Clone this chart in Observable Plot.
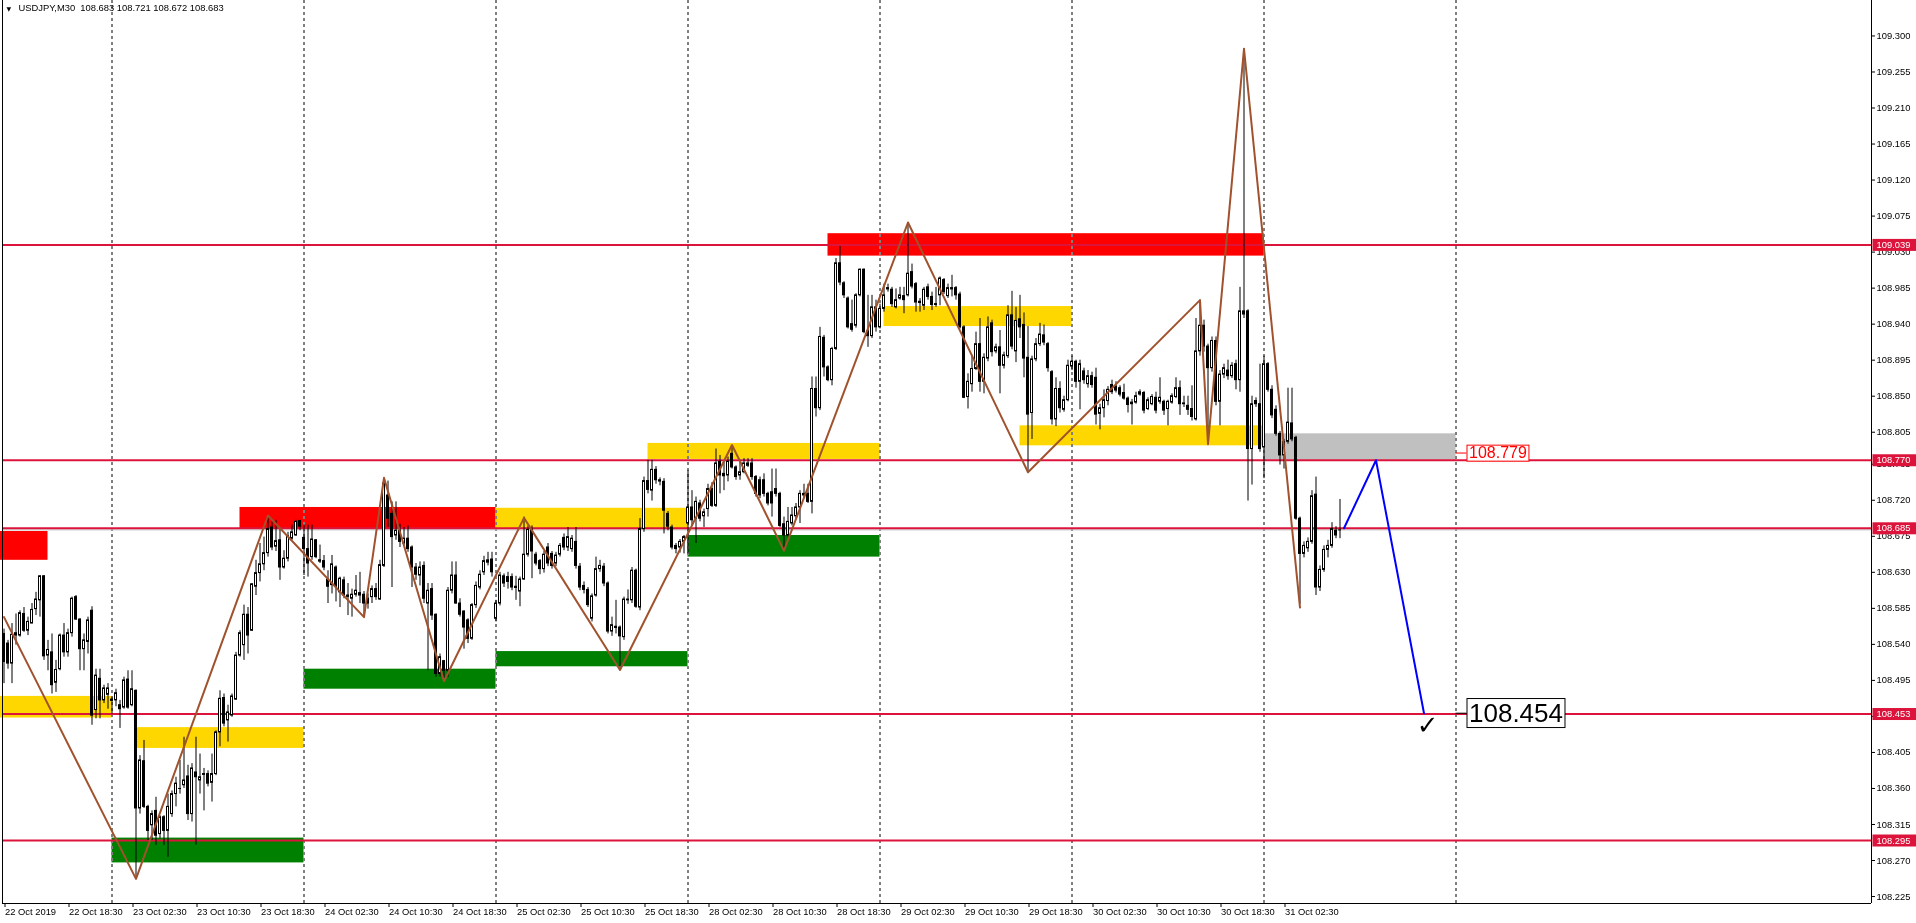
<!DOCTYPE html>
<html><head><meta charset="utf-8">
<script src="https://cdn.jsdelivr.net/npm/d3@7"></script>
<script src="https://cdn.jsdelivr.net/npm/@observablehq/plot@0.6"></script>
<style>
html,body{margin:0;padding:0;background:#fff;overflow:hidden}
#chart svg{display:block}
</style></head><body><div id="chart"></div>
<script>
// ---- USDJPY M30 candles (bar 0 = 22 Oct 10:30) ----
const open = [
108.553,108.541,108.516,108.551,108.551,108.578,108.557,108.566,108.584,108.595,
108.625,108.526,108.530,108.492,108.509,108.551,108.530,108.554,108.599,108.571,
108.534,108.543,108.582,108.458,108.497,108.470,108.477,108.471,108.470,108.464,
108.461,108.496,108.464,108.482,108.335,108.394,108.337,108.314,108.332,108.303,
108.324,108.307,108.328,108.353,108.360,108.364,108.375,108.328,108.380,108.370,
108.377,108.378,108.367,108.378,108.430,108.473,108.445,108.451,108.471,108.526,
108.539,108.577,108.557,108.612,108.629,108.640,108.654,108.686,108.662,108.670,
108.636,108.647,108.672,108.676,108.694,108.673,108.659,108.649,108.670,108.645,
108.644,108.621,108.614,108.636,108.605,108.620,108.601,108.597,108.602,108.604,
108.602,108.597,108.599,108.609,108.596,108.638,108.726,108.703,108.676,108.682,
108.666,108.672,108.661,108.636,108.626,108.638,108.591,108.609,108.577,108.503,
108.519,108.507,108.607,108.626,108.591,108.581,108.570,108.547,108.589,108.611,
108.630,108.642,108.646,108.572,108.591,108.625,108.624,108.624,108.612,108.606,
108.621,108.652,108.683,108.652,108.644,108.634,108.661,108.653,108.641,108.652,
108.673,108.661,108.659,108.668,108.637,108.613,108.608,108.572,108.601,108.634,
108.637,108.616,108.556,108.562,108.561,108.549,108.595,108.595,108.632,108.586,
108.684,108.744,108.732,108.758,108.745,108.743,108.703,108.686,108.663,108.661,
108.668,108.691,108.711,108.697,108.716,108.700,108.709,108.734,108.713,108.768,
108.753,108.751,108.778,108.761,108.751,108.755,108.763,108.766,108.749,108.745,
108.745,108.728,108.730,108.734,108.728,108.690,108.676,108.691,108.700,108.711,
108.728,108.728,108.718,108.859,108.835,108.923,108.886,108.870,108.909,109.016,
108.991,108.972,108.940,108.938,108.976,109.008,108.931,108.925,108.961,108.936,
108.959,108.985,108.983,108.961,108.972,108.975,108.976,109.005,108.990,108.968,
108.963,108.986,108.974,108.964,108.976,108.995,108.975,108.985,108.985,108.977,
108.936,108.849,108.865,108.884,108.915,108.868,108.897,108.941,108.906,108.911,
108.888,108.900,108.951,108.906,108.946,108.939,108.898,108.829,108.896,108.915,
108.926,108.915,108.880,108.821,108.859,108.833,108.845,108.887,108.893,108.868,
108.881,108.865,108.875,108.873,108.828,108.835,108.844,108.864,108.862,108.860,
108.854,108.847,108.840,108.842,108.852,108.854,108.834,108.840,108.848,108.843,
108.843,108.834,108.842,108.849,108.860,108.840,108.838,108.834,108.821,108.906,
108.938,108.912,108.885,108.919,108.843,108.877,108.882,108.875,108.890,108.870,
108.956,108.956,108.784,108.844,108.840,108.786,108.890,108.858,108.833,108.803,
108.776,108.793,108.816,108.798,108.697,108.653,108.660,108.668,108.727,108.611,
108.633,108.658,108.663,108.682,108.683];
const high = [
108.559,108.545,108.566,108.578,108.582,108.586,108.574,108.591,108.605,108.626,
108.626,108.545,108.553,108.520,108.553,108.566,108.559,108.599,108.601,108.572,
108.553,108.574,108.587,108.509,108.509,108.489,108.491,108.474,108.484,108.470,
108.499,108.507,108.507,108.483,108.401,108.420,108.339,108.332,108.349,108.326,
108.326,108.353,108.357,108.374,108.395,108.424,108.389,108.391,108.424,108.403,
108.385,108.382,108.403,108.432,108.482,108.478,108.464,108.478,108.530,108.557,
108.589,108.586,108.616,108.645,108.666,108.674,108.699,108.693,108.695,108.684,
108.657,108.680,108.689,108.695,108.695,108.689,108.689,108.689,108.671,108.664,
108.651,108.632,108.651,108.638,108.624,108.624,108.616,108.609,108.626,108.630,
108.606,108.603,108.613,108.616,108.645,108.747,108.744,108.718,108.718,108.690,
108.686,108.688,108.663,108.641,108.643,108.643,108.616,108.616,108.578,108.528,
108.520,108.611,108.643,108.643,108.597,108.582,108.572,108.591,108.618,108.632,
108.650,108.655,108.655,108.595,108.630,108.628,108.630,108.628,108.625,108.624,
108.699,108.688,108.688,108.655,108.646,108.656,108.666,108.656,108.655,108.666,
108.678,108.686,108.676,108.686,108.641,108.618,108.611,108.603,108.649,108.645,
108.641,108.618,108.574,108.595,108.563,108.599,108.608,108.636,108.634,108.697,
108.749,108.770,108.770,108.762,108.748,108.747,108.706,108.689,108.666,108.671,
108.676,108.757,108.732,108.724,108.720,108.709,108.740,108.742,108.784,108.776,
108.768,108.774,108.788,108.763,108.770,108.772,108.772,108.772,108.751,108.749,
108.753,108.730,108.759,108.759,108.730,108.699,108.711,108.711,108.716,108.732,
108.740,108.740,108.874,108.874,108.936,108.926,108.888,108.911,109.022,109.037,
108.993,108.974,108.970,108.978,109.009,109.009,108.976,108.976,108.970,108.965,
108.990,108.990,108.986,108.984,108.986,108.986,109.067,109.015,108.992,108.972,
108.986,108.990,108.980,108.986,108.999,108.997,108.990,109.001,108.987,108.980,
108.938,108.878,108.901,108.930,108.947,108.903,108.949,108.945,108.915,108.932,
108.905,108.963,108.981,108.961,108.976,108.954,108.937,108.900,108.922,108.941,
108.939,108.917,108.882,108.873,108.868,108.850,108.895,108.900,108.895,108.895,
108.885,108.882,108.880,108.885,108.840,108.858,108.862,108.870,108.868,108.863,
108.865,108.849,108.846,108.855,108.858,108.856,108.848,108.852,108.855,108.873,
108.845,108.845,108.853,108.873,108.869,108.850,108.850,108.863,108.947,108.970,
108.945,108.915,108.924,108.924,108.882,108.890,108.895,108.892,108.895,108.986,
109.284,108.958,108.850,108.848,108.890,108.900,108.892,108.863,108.838,108.806,
108.796,108.860,108.860,108.800,108.699,108.668,108.673,108.732,108.749,108.638,
108.663,108.670,108.692,108.687,108.721];
const low = [
108.491,108.509,108.491,108.539,108.549,108.555,108.551,108.566,108.576,108.574,
108.520,108.507,108.478,108.480,108.507,108.524,108.524,108.549,108.570,108.507,
108.507,108.528,108.439,108.447,108.447,108.466,108.459,108.453,108.462,108.435,
108.459,108.459,108.462,108.247,108.328,108.335,108.295,108.295,108.289,108.297,
108.289,108.274,108.324,108.337,108.353,108.360,108.320,108.318,108.289,108.353,
108.332,108.362,108.343,108.376,108.412,108.437,108.418,108.449,108.470,108.524,
108.520,108.528,108.556,108.601,108.618,108.632,108.649,108.657,108.656,108.620,
108.634,108.643,108.670,108.675,108.682,108.626,108.624,108.645,108.647,108.641,
108.632,108.591,108.603,108.593,108.586,108.597,108.576,108.574,108.599,108.591,
108.574,108.584,108.591,108.595,108.595,108.636,108.686,108.611,108.670,108.661,
108.663,108.655,108.611,108.620,108.613,108.591,108.507,108.570,108.499,108.499,
108.495,108.499,108.603,108.590,108.574,108.534,108.541,108.545,108.585,108.608,
108.626,108.638,108.624,108.568,108.588,108.611,108.609,108.607,108.595,108.587,
108.620,108.649,108.622,108.638,108.627,108.629,108.637,108.634,108.637,108.649,
108.657,108.656,108.655,108.634,108.607,108.603,108.586,108.568,108.599,108.630,
108.612,108.553,108.550,108.553,108.508,108.545,108.590,108.591,108.585,108.582,
108.680,108.728,108.719,108.740,108.738,108.678,108.682,108.658,108.653,108.654,
108.653,108.653,108.688,108.666,108.693,108.686,108.699,108.711,108.711,108.728,
108.732,108.743,108.759,108.745,108.745,108.753,108.761,108.745,108.724,108.722,
108.724,108.713,108.699,108.724,108.686,108.657,108.674,108.688,108.697,108.691,
108.722,108.716,108.703,108.824,108.832,108.874,108.868,108.863,108.907,108.988,
108.972,108.934,108.930,108.935,108.974,108.928,108.911,108.922,108.930,108.934,
108.955,108.980,108.961,108.959,108.970,108.953,108.974,108.984,108.955,108.955,
108.957,108.970,108.957,108.961,108.963,108.977,108.972,108.974,108.970,108.934,
108.847,108.834,108.855,108.882,108.855,108.853,108.893,108.899,108.903,108.853,
108.884,108.897,108.908,108.892,108.922,108.873,108.755,108.796,108.893,108.912,
108.913,108.880,108.814,108.812,108.829,108.830,108.843,108.882,108.860,108.833,
108.865,108.860,108.860,108.814,108.808,108.823,108.838,108.852,108.854,108.849,
108.845,108.829,108.814,108.840,108.850,108.828,108.832,108.838,108.828,108.840,
108.826,108.813,108.840,108.847,108.826,108.836,108.826,108.819,108.819,108.900,
108.905,108.790,108.880,108.838,108.813,108.872,108.870,108.872,108.858,108.855,
108.947,108.719,108.739,108.836,108.780,108.747,108.855,108.822,108.800,108.764,
108.759,108.790,108.793,108.695,108.590,108.648,108.655,108.665,108.601,108.606,
108.630,108.648,108.660,108.672,108.672];
const close = [
108.518,108.516,108.552,108.554,108.579,108.557,108.568,108.583,108.596,108.625,
108.525,108.533,108.489,108.508,108.551,108.530,108.554,108.597,108.571,108.534,
108.545,108.570,108.451,108.501,108.470,108.485,108.485,108.470,108.479,108.459,
108.495,108.461,108.484,108.335,108.395,108.337,108.307,108.328,108.301,108.324,
108.307,108.337,108.353,108.366,108.360,108.370,108.328,108.385,108.374,108.374,
108.378,108.366,108.378,108.430,108.472,108.441,108.455,108.475,108.526,108.554,
108.577,108.551,108.615,108.629,108.640,108.654,108.684,108.661,108.669,108.636,
108.647,108.675,108.680,108.693,108.687,108.659,108.641,108.671,108.649,108.644,
108.636,108.612,108.640,108.612,108.622,108.601,108.600,108.602,108.607,108.601,
108.591,108.591,108.609,108.599,108.639,108.741,108.697,108.674,108.682,108.668,
108.672,108.659,108.636,108.627,108.636,108.597,108.607,108.576,108.503,108.524,
108.507,108.607,108.626,108.591,108.577,108.561,108.547,108.589,108.613,108.627,
108.644,108.645,108.630,108.591,108.626,108.616,108.618,108.611,108.611,108.621,
108.652,108.683,108.656,108.641,108.634,108.652,108.641,108.638,108.651,108.663,
108.661,108.674,108.672,108.638,108.611,108.608,108.589,108.600,108.634,108.638,
108.616,108.556,108.564,108.561,108.550,108.596,108.596,108.632,108.587,108.684,
108.744,108.733,108.758,108.745,108.744,108.707,108.687,108.661,108.659,108.668,
108.674,108.711,108.695,108.718,108.697,108.705,108.734,108.713,108.766,108.751,
108.750,108.768,108.761,108.749,108.755,108.766,108.766,108.749,108.728,108.726,
108.728,108.716,108.716,108.728,108.688,108.676,108.693,108.701,108.711,108.728,
108.726,108.718,108.859,108.835,108.924,108.886,108.870,108.909,109.016,108.992,
108.976,108.936,108.933,108.976,109.008,108.930,108.925,108.961,108.936,108.959,
108.976,108.984,108.965,108.970,108.976,108.970,109.003,108.987,108.967,108.967,
108.983,108.974,108.964,108.965,108.997,108.980,108.985,108.984,108.976,108.936,
108.848,108.868,108.884,108.915,108.868,108.898,108.936,108.905,108.911,108.888,
108.901,108.951,108.912,108.944,108.936,108.897,108.827,108.896,108.915,108.927,
108.917,108.885,108.821,108.859,108.835,108.845,108.888,108.893,108.868,108.890,
108.870,108.875,108.864,108.827,108.835,108.845,108.858,108.855,108.857,108.852,
108.847,108.839,108.842,108.850,108.855,108.832,108.845,108.849,108.832,108.848,
108.832,108.843,108.850,108.860,108.840,108.841,108.833,108.824,108.906,108.938,
108.912,108.885,108.919,108.843,108.877,108.885,108.875,108.888,108.870,108.956,
108.952,108.784,108.840,108.840,108.784,108.890,108.858,108.826,108.803,108.776,
108.793,108.817,108.796,108.697,108.653,108.663,108.668,108.725,108.611,108.633,
108.658,108.663,108.684,108.676,108.683];

// ---- zones (bar start, bar end, low, high, colour) ----
const zoneStart = [-1, -1, 33, 27, 59, 75, 123, 123, 161, 171, 206, 220, 254, 315];
const zoneEnd   = [11, 27, 75, 75, 123, 123, 171, 171, 219, 219, 315, 267, 315, 363];
const zoneLow   = [108.645,108.448,108.410,108.267,108.684,108.484,108.684,108.512,108.771,108.649,109.025,108.937,108.788,108.770];
const zoneHigh  = [108.681,108.475,108.436,108.298,108.711,108.509,108.710,108.531,108.791,108.676,109.053,108.962,108.813,108.803];
const zoneColor = ["#ff0000","#ffd700","#ffd700","#008000","#ff0000","#008000","#ffd700","#008000","#ffd700","#008000","#ff0000","#ffd700","#ffd700","#c0c0c0"];

// ---- horizontal levels ----
const levels = [109.039, 108.770, 108.685, 108.453, 108.295];
const bidPrice = [108.683];

// ---- zigzag and projection ----
const zzBar   = [0, 33, 66, 90, 95, 110, 130, 154, 182, 195, 226, 256, 299, 301, 310, 324];
const zzPrice = [108.574,108.247,108.701,108.574,108.748,108.494,108.698,108.508,108.789,108.657,109.067,108.755,108.970,108.790,109.284,108.586];
const projBar   = [335, 343, 355];
const projPrice = [108.685, 108.770, 108.454];

// ---- annotations ----
const noteBar   = [363, 363];
const notePrice = [108.779, 108.454];
const noteText  = ["108.779", "108.454"];
const noteColor = ["#ff0000", "#000000"];
const noteSize  = [16, 26];
const checkBar = [355.9], checkPrice = [108.439];

// ---- axes ----
const daySepBars = [27, 75, 123, 171, 219, 267, 315, 363];
const xTickBars = [0,16,32,48,64,80,96,112,128,144,160,176,192,208,224,240,256,272,288,304,320];
const xTickLabels = ["22 Oct 2019","22 Oct 18:30","23 Oct 02:30","23 Oct 10:30","23 Oct 18:30","24 Oct 02:30","24 Oct 10:30","24 Oct 18:30","25 Oct 02:30","25 Oct 10:30","25 Oct 18:30","28 Oct 02:30","28 Oct 10:30","28 Oct 18:30","29 Oct 02:30","29 Oct 10:30","29 Oct 18:30","30 Oct 02:30","30 Oct 10:30","30 Oct 18:30","31 Oct 02:30"];
const yTicks = [108.225,108.270,108.315,108.360,108.405,108.450,108.495,108.540,108.585,108.630,108.675,108.720,108.765,108.805,108.850,108.895,108.940,108.985,109.030,109.075,109.120,109.165,109.210,109.255,109.300];
const headerText = "USDJPY,M30\u00a0 108.683 108.721 108.672 108.683";

// ---- build tables ----
const candles = open.map((o, i) => ({i, o, h: high[i], l: low[i], c: close[i]}));
const zones = zoneStart.map((a, k) => ({a, b: zoneEnd[k], lo: zoneLow[k], hi: zoneHigh[k], color: zoneColor[k]}));
const zz = zzBar.map((b, k) => ({b, p: zzPrice[k]}));
const proj = projBar.map((b, k) => ({b, p: projPrice[k]}));
const notes = noteBar.map((b, k) => ({b, p: notePrice[k], t: noteText[k], color: noteColor[k], size: noteSize[k]}));
const checks = checkBar.map((b, k) => ({b, p: checkPrice[k]}));

const xDomain = [-0.375, 466.875];
const yDomain = [108.2163, 109.3443];
const FONT = "Liberation Sans, Arial, sans-serif";
const FS = 9.4;

const svg = Plot.plot({
  width: 1916, height: 923,
  marginLeft: 2, marginRight: 45, marginTop: 0, marginBottom: 20,
  x: {type: "linear", domain: xDomain, axis: null},
  y: {type: "linear", domain: yDomain, axis: null},
  color: {type: "identity"},
  style: {fontFamily: FONT, fontSize: FS + "px", background: "white", color: "black", overflow: "visible"},
  marks: [
    Plot.rect(zones, {x1: "a", x2: "b", y1: "lo", y2: "hi", fill: "color"}),
    Plot.ruleX(daySepBars, {stroke: "white", strokeDasharray: "3,3", mixBlendMode: "difference"}),
    Plot.ruleY(bidPrice, {stroke: "#c0c0c0"}),
    Plot.ruleY(levels, {stroke: "#dc143c", strokeWidth: 2}),
    Plot.ruleX(candles, {x: "i", y1: "l", y2: "h", stroke: "black"}),
    Plot.rect(candles, {filter: d => d.c >= d.o, x1: d => d.i - 0.25, x2: d => d.i + 0.25, y1: "o", y2: "c", fill: "white", stroke: "black"}),
    Plot.rect(candles, {filter: d => d.c < d.o, x1: d => d.i - 0.25, x2: d => d.i + 0.25, y1: "o", y2: "c", fill: "black", stroke: "black"}),
    Plot.ruleY(candles, {filter: d => Math.abs(d.c - d.o) < 0.0012, y: "c", x1: d => d.i - 0.375, x2: d => d.i + 0.375, stroke: "black"}),
    Plot.line(zz, {x: "b", y: "p", stroke: "#a0522d", strokeWidth: 2}),
    Plot.line(proj, {x: "b", y: "p", stroke: "#0000ff", strokeWidth: 2}),
    Plot.ruleY(notes, {y: "p", x1: "b", x2: d => d.b + 2.75, stroke: "color"}),
    ...notes.map(n => Plot.text([n], {x: "b", y: "p", text: "t", fill: n.color, fontSize: n.size, dx: 13, textAnchor: "start", fontFamily: FONT})),
    Plot.text(checks, {x: "b", y: "p", text: () => "\u2713", fontSize: 26, fontWeight: "bold", fontFamily: "DejaVu Sans", fill: "black"}),
    Plot.ruleX([xDomain[0], xDomain[1]], {stroke: "black"}),
    Plot.ruleY([yDomain[0]], {stroke: "black"}),
    Plot.axisX({anchor: "bottom", ticks: xTickBars, tickFormat: d => xTickLabels[xTickBars.indexOf(d)], tickSize: 4, tickPadding: 1, textAnchor: "start", dx: 1, fontSize: FS, label: null}),
    Plot.axisY({anchor: "right", ticks: yTicks, tickFormat: d3.format(".3f"), tickSize: 3, tickPadding: 2, fontSize: FS, label: null}),
    Plot.text(levels, {y: d => d, text: d => d3.format(".3f")(d), frameAnchor: "right", dx: 5, textAnchor: "start", fill: "white", fontSize: FS}),
    Plot.text([headerText], {frameAnchor: "top-left", dx: 16, dy: 4, lineAnchor: "top", textAnchor: "start", fontSize: FS, fill: "black"}),
    Plot.text(["\u25BC"], {frameAnchor: "top-left", dx: 4, dy: 6, lineAnchor: "top", textAnchor: "start", fontSize: 6, fontFamily: "DejaVu Sans", fill: "black"})
  ]
});
document.getElementById("chart").appendChild(svg);

// ---- boxes behind annotation texts and level labels ----
const NS = "http://www.w3.org/2000/svg";
function addBox(t, fill, stroke, fx) {
  const b = t.getBBox();
  const r = document.createElementNS(NS, "rect");
  const geom = fx(b);
  r.setAttribute("x", geom.x); r.setAttribute("y", geom.y);
  r.setAttribute("width", geom.w); r.setAttribute("height", geom.h);
  r.setAttribute("fill", fill);
  if (stroke) { r.setAttribute("stroke", stroke); r.setAttribute("stroke-width", 1); }
  const tr = t.getAttribute("transform");
  if (tr) r.setAttribute("transform", tr);
  t.parentNode.insertBefore(r, t);
}
const levelStr = levels.map(d => d3.format(".3f")(d));
svg.querySelectorAll("text").forEach(t => {
  const s = t.textContent;
  const k = noteText.indexOf(s);
  if (k >= 0) {
    addBox(t, "white", noteColor[k], b => ({x: b.x - 2, y: b.y + 1, w: b.width + 4, h: b.height - 1}));
  } else if (levelStr.includes(s) && t.getAttribute("fill") === "white" || (levelStr.includes(s) && t.parentNode.getAttribute("fill") === "white")) {
    addBox(t, "#dc143c", null, b => ({x: -4, y: b.y, w: 44, h: b.height + 1}));
  }
});
</script>
</body></html>
